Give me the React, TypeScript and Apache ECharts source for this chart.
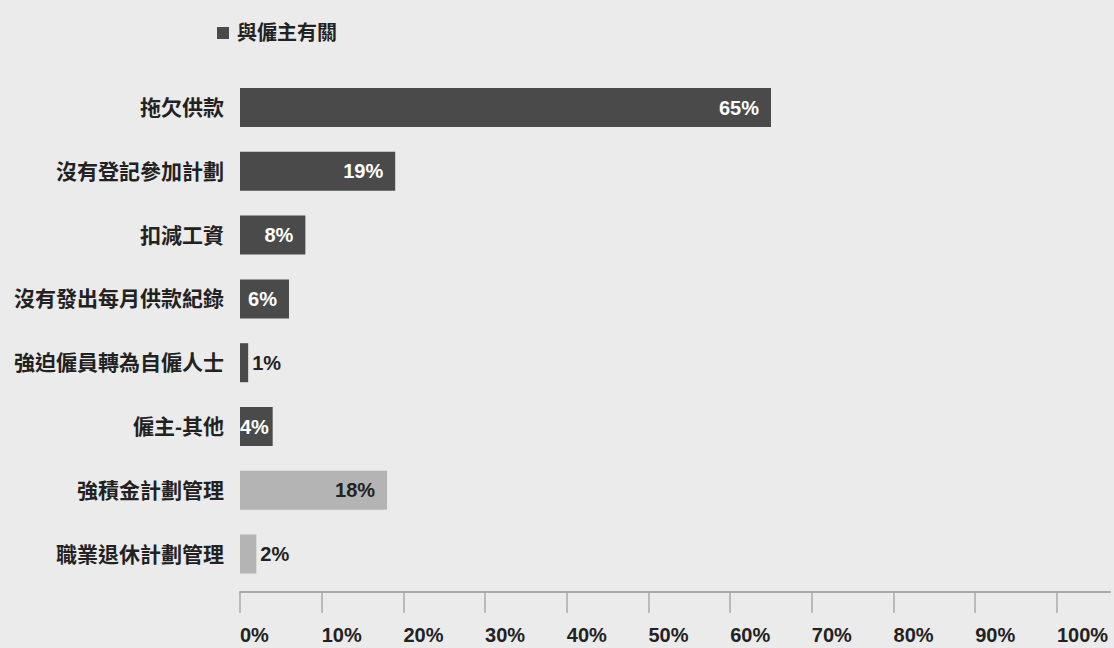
import React, { useEffect, useRef } from "react";
import * as echarts from "echarts";

const categories = [
  "拖欠供款",
  "沒有登記參加計劃",
  "扣減工資",
  "沒有發出每月供款紀錄",
  "強迫僱員轉為自僱人士",
  "僱主-其他",
  "強積金計劃管理",
  "職業退休計劃管理",
];
const employerValues: (number | string)[] = [65, 19, 8, 6, 1, 4, "-", "-"];
const otherValues: (number | string)[] = ["-", "-", "-", "-", "-", "-", 18, 2];
const tickValues = [0, 10, 20, 30, 40, 50, 60, 70, 80, 90, 100];
const legendName = "與僱主有關";
const otherName = "其他";

const FONT = "'Liberation Sans', 'Noto Sans CJK TC', sans-serif";

export default function App() {
  const ref = useRef<HTMLDivElement>(null);
  useEffect(() => {
    if (!ref.current) return;
    const chart = echarts.init(ref.current, undefined, { renderer: "svg" });
    const smallLabel = {
      show: true,
      position: "right",
      distance: 4,
      color: "#222",
    };
    const employerData = employerValues.map((v) => {
      if (v === 1) return { value: v, label: smallLabel };
      if (v === 4)
        return { value: v, label: { show: true, position: "insideLeft", distance: 0, color: "#fff" } };
      return { value: v };
    });
    const otherData = otherValues.map((v) => {
      if (v === 2) return { value: v, label: smallLabel };
      return { value: v };
    });
    chart.setOption({
      animation: false,
      backgroundColor: "#ebebeb",
      textStyle: { fontFamily: FONT },
      legend: {
        data: [legendName],
        left: 212,
        top: 18,
        itemWidth: 12,
        itemHeight: 12,
        icon: "rect",
        textStyle: {
          fontSize: 20,
          fontWeight: "bold",
          color: "#222",
          fontFamily: FONT,
          padding: [0, 0, 0, 3],
        },
      },
      grid: { left: 240, right: 4, top: 75.6, height: 510.4 },
      xAxis: {
        type: "value",
        min: 0,
        max: 106.5,
        interval: 10,
        offset: 6,
        splitLine: { show: false },
        axisLine: { show: true, lineStyle: { color: "#aaaaaa", width: 2 } },
        axisTick: {
          show: true,
          length: 21,
          inside: false,
          customValues: tickValues,
          lineStyle: { color: "#aaaaaa", width: 1.5 },
        },
        axisLabel: {
          customValues: tickValues,
          formatter: (v: number) => v + "%",
          align: "left",
          margin: 33,
          fontSize: 20,
          fontWeight: "bold",
          color: "#222",
          fontFamily: FONT,
        },
      },
      yAxis: {
        type: "category",
        data: categories,
        inverse: true,
        axisLine: { show: false },
        axisTick: { show: false },
        axisLabel: {
          margin: 16,
          fontSize: 21,
          fontWeight: "bold",
          color: "#222",
          fontFamily: FONT,
        },
      },
      series: [
        {
          name: legendName,
          type: "bar",
          stack: "all",
          barWidth: 39,
          data: employerData,
          itemStyle: { color: "#4a4a4a" },
          label: {
            show: true,
            position: "insideRight",
            distance: 12,
            formatter: "{c}%",
            fontSize: 20,
            fontWeight: "bold",
            color: "#ffffff",
            fontFamily: FONT,
          },
        },
        {
          name: otherName,
          type: "bar",
          stack: "all",
          barWidth: 39,
          data: otherData,
          itemStyle: { color: "#b4b4b4" },
          label: {
            show: true,
            position: "insideRight",
            distance: 12,
            formatter: "{c}%",
            fontSize: 20,
            fontWeight: "bold",
            color: "#222",
            fontFamily: FONT,
          },
        },
      ],
    });
    return () => chart.dispose();
  }, []);
  return (
    <div
      ref={ref}
      style={{ position: "absolute", left: 0, top: 0, width: 1114, height: 648 }}
    />
  );
}
